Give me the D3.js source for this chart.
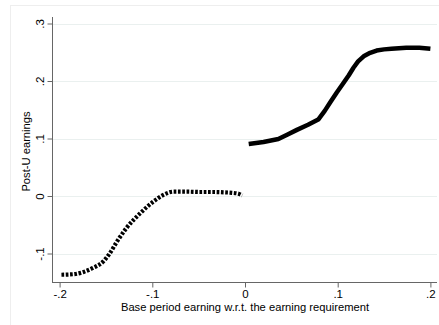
<!DOCTYPE html>
<html>
<head>
<meta charset="utf-8">
<script src="https://cdn.jsdelivr.net/npm/d3@7"></script>
<style>
  html, body { margin: 0; padding: 0; background: #fff; }
  svg { display: block; font-family: "Liberation Sans", Arial, Helvetica, sans-serif; }
</style>
</head>
<body>
<svg id="chart" width="439" height="325"></svg>
<script>
// Earnings below the requirement (left of the threshold)
const belowX = [-0.198, -0.185, -0.174, -0.164, -0.153, -0.146, -0.138, -0.128, -0.113, -0.099, -0.088, -0.077, -0.063, -0.049, -0.035, -0.023, -0.014, -0.007, -0.003];
const belowY = [-0.137, -0.136, -0.132, -0.125, -0.114, -0.100, -0.079, -0.056, -0.030, -0.010, 0.002, 0.0075, 0.0075, 0.007, 0.007, 0.0064, 0.0055, 0.004, 0.001];

// Earnings above the requirement (right of the threshold)
const aboveX = [0.004, 0.020, 0.036, 0.046, 0.056, 0.068, 0.079, 0.086, 0.092, 0.099, 0.106, 0.112, 0.117, 0.122, 0.128, 0.135, 0.142, 0.150, 0.158, 0.174, 0.188, 0.200];
const aboveY = [0.0904, 0.094, 0.099, 0.107, 0.115, 0.124, 0.133, 0.148, 0.163, 0.180, 0.196, 0.210, 0.223, 0.234, 0.243, 0.249, 0.253, 0.255, 0.256, 0.258, 0.258, 0.256];

const xTicks = [-0.2, -0.1, 0, 0.1, 0.2];
const xTickLabels = ["-.2", "-.1", "0", ".1", ".2"];
const yTicks = [-0.1, 0, 0.1, 0.2, 0.3];
const yTickLabels = ["-.1", "0", ".1", ".2", ".3"];

const xTitle = "Base period earning w.r.t. the earning requirement";
const yTitle = "Post-U earnings";

const svg = d3.select("#chart");
const W = 439, H = 325;

// outer graph frame
svg.append("rect")
  .attr("x", 10.5).attr("y", 5.5)
  .attr("width", W - 10).attr("height", H - 4)
  .attr("fill", "#fff").attr("stroke", "#eeeeee").attr("stroke-width", 1);

const x = d3.scaleLinear().domain([-0.2, 0.2]).range([59.6, 430.4]);
const y = d3.scaleLinear().domain([-0.1, 0.3]).range([253.5, 23.5]);

const plotLeft = 52, plotRight = 437, plotTop = 17, plotBottom = 282;

// horizontal grid lines
svg.append("g").selectAll("line").data(yTicks).join("line")
  .attr("x1", plotLeft).attr("x2", plotRight)
  .attr("y1", d => Math.round(y(d)) + 0.5).attr("y2", d => Math.round(y(d)) + 0.5)
  .attr("stroke", "#eaf0ef").attr("stroke-width", 1);

// y axis
const yAxis = d3.axisLeft(y).tickValues(yTicks)
  .tickFormat((d, i) => yTickLabels[i]).tickSize(5).tickSizeOuter(0);
const gy = svg.append("g").attr("transform", `translate(${plotLeft + 0.5},0)`).call(yAxis);
gy.select(".domain").attr("d", `M0,${plotTop}V${plotBottom}`).attr("stroke", "#666");
gy.selectAll(".tick line").attr("stroke", "#666");
gy.selectAll(".tick text")
  .attr("font-size", 11.5).attr("fill", "#000")
  .attr("transform", "rotate(-90)")
  .attr("x", 0).attr("y", -9)
  .attr("dy", "0")
  .attr("text-anchor", "middle");

// x axis
const xAxis = d3.axisBottom(x).tickValues(xTicks)
  .tickFormat((d, i) => xTickLabels[i]).tickSize(5).tickSizeOuter(0);
const gx = svg.append("g").attr("transform", `translate(0,${plotBottom + 0.5})`).call(xAxis);
gx.select(".domain").attr("d", `M${plotLeft},0H${plotRight}`).attr("stroke", "#666");
gx.selectAll(".tick line").attr("stroke", "#666");
gx.selectAll(".tick text").attr("font-size", 11.5).attr("fill", "#000").attr("y", 7);

// axis titles
svg.append("text")
  .attr("x", 245).attr("y", 311)
  .attr("text-anchor", "middle").attr("font-size", 11.2).attr("fill", "#000")
  .text(xTitle);
svg.append("text")
  .attr("transform", `translate(30,${(plotTop + plotBottom) / 2 + 2}) rotate(-90)`)
  .attr("text-anchor", "middle").attr("font-size", 11.2).attr("fill", "#000")
  .text(yTitle);

const smooth = d3.line()
  .x(d => x(d[0])).y(d => y(d[1]))
  .curve(d3.curveMonotoneX);

const fitted = d3.line()
  .x(d => x(d[0])).y(d => y(d[1]))
  .curve(d3.curveLinear);

// dotted series
svg.append("path")
  .datum(belowX.map((v, i) => [v, belowY[i]]))
  .attr("d", smooth)
  .attr("fill", "none").attr("stroke", "#000")
  .attr("stroke-width", 4.2)
  .attr("stroke-dasharray", "2.7,1.6");

// solid series
svg.append("path")
  .datum(aboveX.map((v, i) => [v, aboveY[i]]))
  .attr("d", fitted)
  .attr("fill", "none").attr("stroke", "#000")
  .attr("stroke-width", 4.5)
  .attr("stroke-linejoin", "round");
</script>
</body>
</html>
